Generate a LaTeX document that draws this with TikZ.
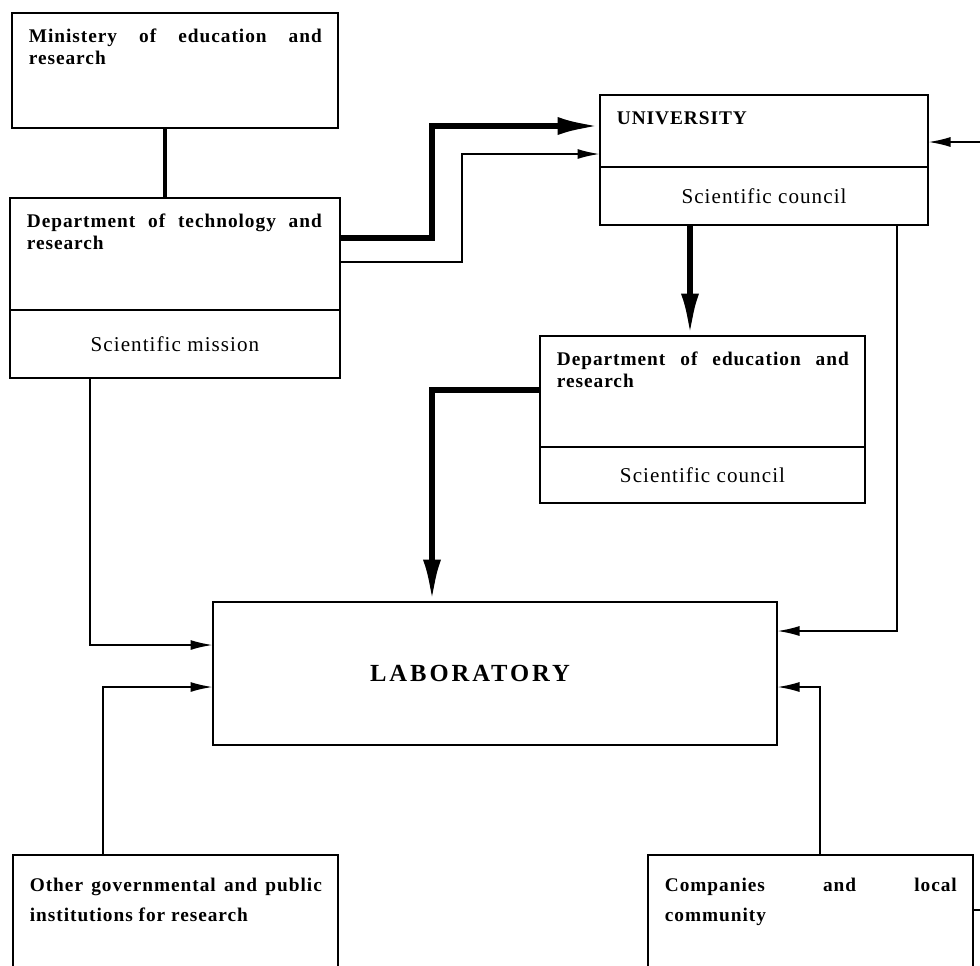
\documentclass[tikz,border=0pt]{standalone}
\usepackage{fontspec}
\setmainfont{Liberation Serif}[LetterSpace=5]
\usetikzlibrary{positioning, arrows.meta}

\tikzset{
  entity/.style={rectangle, draw, line width=1pt, inner sep=0pt, outer sep=0pt, minimum width=#1},
  title/.style={font=\bfseries\fontsize{11}{12.5}\selectfont, text width=#1, align=justify, anchor=north west, inner xsep=0.33cm, inner ysep=0.32cm},
  lowtitle/.style={title=#1, inner ysep=0.45cm, font=\bfseries\fontsize{11}{17}\selectfont},
  subtext/.style={font=\fontsize{12}{14}\selectfont},
  labtext/.style={font=\bfseries\fontsize{14}{16}\selectfont\addfontfeature{LetterSpace=12}, anchor=center},
  bigarrow/.style={line width=3.2pt, -{Latex[length=0.85cm, width=0.36cm]}},
  thinarrow/.style={line width=1.2pt, -{Latex[length=0.45cm, width=0.2cm]}},
}

\begin{document}
\begin{tikzpicture}
        \useasboundingbox (0,0) rectangle (19.6,-19.3);
        \clip (0,0) rectangle (19.6,-19.3);

        %-----Entities-----

        % Ministry Entity
        \node[entity=6.52cm, minimum height=2.30cm, anchor=north west, label={[title=5.86cm]north west:{Ministery of education and\linebreak research}}] (min) at (0.24,-0.26) {};

        % Department of Technology Entity
        \node[entity=6.60cm, minimum height=2.24cm, anchor=north west, label={[title=5.90cm]north west:{Department of technology and\linebreak research}}] (tech) at (0.20,-3.96) {};
        \node[entity=6.60cm, minimum height=1.36cm, subtext, below=0pt of tech] (techsub) {Scientific mission};

        % University Entity
        \node[entity=6.56cm, minimum height=1.44cm, anchor=north west, label={[title=5.90cm]north west:{UNIVERSITY}}] (univ) at (12.0,-1.90) {};
        \node[entity=6.56cm, minimum height=1.16cm, subtext, below=0pt of univ] (unisub) {Scientific council};

        % Department of Education Entity
        \node[entity=6.50cm, minimum height=2.22cm, anchor=north west, label={[title=5.84cm]north west:{Department of education and\linebreak research}}] (edu) at (10.80,-6.72) {};
        \node[entity=6.50cm, minimum height=1.12cm, subtext, below=0pt of edu] (edusub) {Scientific council};

        % Laboratory Entity
        \node[entity=11.28cm, minimum height=2.86cm, anchor=north west, label={[labtext, xshift=-0.5cm]center:LABORATORY}] (lab) at (4.26,-12.04) {};

        % Other Institutions Entity
        \node[entity=6.50cm, minimum height=3cm, anchor=north west, label={[lowtitle=5.84cm]north west:{Other governmental and public\linebreak institutions for research}}] (gov) at (0.26,-17.10) {};

        % Companies Entity
        \node[entity=6.50cm, minimum height=3cm, anchor=north west, label={[lowtitle=5.84cm]north west:{Companies and local\linebreak community}}] (comp) at (12.96,-17.10) {};

        %-----Connections-----

        % Connect Ministry to Department of Technology
        \draw[line width=2pt] ([xshift=-0.2cm]min.south) -- ([xshift=-0.2cm]tech.north);

        % Connect Department of Technology to University (thick and thin)
        \draw[bigarrow] ([yshift=-0.8cm]tech.north east) -- ++(1.84,0) |- ([yshift=-0.62cm]univ.north west);
        \draw[thinarrow] ([yshift=-1.28cm]tech.north east) -- ++(2.44,0) |- ([yshift=-1.18cm]univ.north west);

        % Incoming to University from the right
        \coordinate (outside) at ([xshift=1.5cm, yshift=-0.94cm]univ.north east);
        \draw[thinarrow] (outside) -- (outside -| univ.east);

        % Connect University to Department of Education
        \draw[bigarrow] ([xshift=1.8cm]unisub.south west) -- ([xshift=1.8cm]unisub.south west |- edu.north);

        % Connect Department of Education to Laboratory
        \draw[bigarrow] ([yshift=-1.08cm]edu.north west) -| ([xshift=4.38cm]lab.north west);

        % Connect Department of Technology to Laboratory
        \draw[thinarrow] ([xshift=1.6cm]techsub.south west) |- ([yshift=-0.86cm]lab.north west);

        % Connect University to Laboratory
        \draw[thinarrow] ([xshift=5.94cm]unisub.south west) |- ([yshift=-0.58cm]lab.north east);

        % Connect Other Institutions to Laboratory
        \draw[thinarrow] ([xshift=1.8cm]gov.north west) |- ([yshift=-1.7cm]lab.north west);

        % Connect Companies to Laboratory
        \draw[thinarrow] ([xshift=3.44cm]comp.north west) |- ([yshift=-1.7cm]lab.north east);

        % Line leaving Companies to the right
        \coordinate (offpage) at ([xshift=1cm, yshift=-1.1cm]comp.north east);
        \draw[line width=1pt] (offpage -| comp.east) -- (offpage);

    \end{tikzpicture}
\end{document}
